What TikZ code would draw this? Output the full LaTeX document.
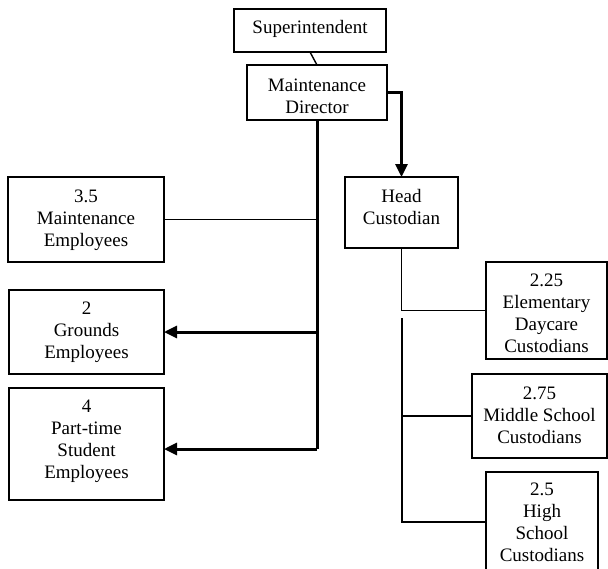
\documentclass[tikz,border=0pt]{standalone}
\usepackage{fontspec}
\setmainfont{Liberation Serif}
\usetikzlibrary{arrows.meta}
\newcommand\obox[7]{%
  \node[bx, minimum width={(#4-#2)*1pt}, minimum height={(#5-#3)*1pt}] (#1) at ({(#2+#4)/2},{(#3+#5)/2}) {};
  \node[tx] (#1-t) at ({(#2+#4)/2},{#3+#7}) {\strut #6};
}
\begin{document}
\begin{tikzpicture}[x=1pt,y=-1pt, font=\fontsize{19}{22}\selectfont,
  bx/.style={draw, line width=1.4pt, inner sep=0pt, outer sep=0pt},
  tx/.style={align=center, inner sep=0pt, anchor=north},
  thin/.style={line width=1.4pt},
  thk/.style={line width=3pt, line join=miter},
  arr/.style={thk, -{Triangle[length=13pt,width=12pt]}}]
\useasboundingbox (0,0) rectangle (608,568);
\obox{sup}{234}{9}{386}{52}{Superintendent}{8.6}
\obox{md}{247}{65}{387}{120}{Maintenance\\Director}{10.6}
\obox{me}{8}{177}{164}{262}{3.5\\Maintenance\\Employees}{9.6}
\obox{ge}{9}{290}{164}{374}{2\\Grounds\\Employees}{8.6}
\obox{pt}{9}{388}{164}{500}{4\\Part-time\\Student\\Employees}{8.6}
\obox{hc}{345}{177}{458}{248}{Head\\Custodian}{9.6}
\obox{ed}{486}{262}{607}{359}{2.25\\Elementary\\Daycare\\Custodians}{8.6}
\obox{ms}{472}{374}{607}{458}{2.75\\Middle School\\Custodians}{9.6}
\obox{hs}{486}{472}{598}{572}{2.5\\High\\School\\Custodians}{7.6}
% connectors
\draw[thin] (sup.south) -- (md.north);
\draw[arr] (md.east) -| (hc.north);
\coordinate (tEnd) at (317,449);
\coordinate (tGe) at (317,332);
\draw[thk] (md.south) -- (tEnd);
\draw[thin] (me.east) -- (me.east -| md.south);
\draw[arr] (tGe) -- (ge.east);
\draw[arr] (tEnd) -- (tEnd -| pt.east);
\draw[thin] (hc.south) |- (ed.west);
\coordinate (c1) at (402,318);
\draw[thin] (c1) |- (hs.west);
\draw[thin] (c1 |- ms.west) -- (ms.west);
\end{tikzpicture}
\end{document}
